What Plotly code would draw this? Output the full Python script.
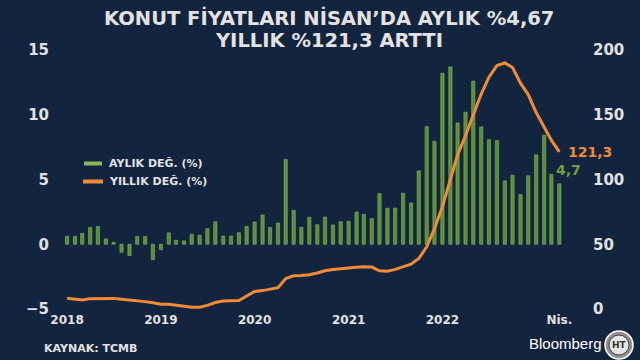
import plotly.graph_objects as go
import pandas as pd

# ---- data ----
months = pd.date_range("2018-01-01", periods=64, freq="MS")

monthly_change = [
    0.62, 0.62, 0.83, 1.29, 1.37, 0.41, 0.15, -0.62, -0.88, 0.60, 0.60, -1.19,
    -0.41, 0.88, 0.31, 0.26, 0.78, 0.70, 1.20, 1.74, 0.63, 0.63, 0.89, 1.38,
    1.72, 2.26, 1.30, 1.64, 6.55, 2.62, 1.30, 2.08, 1.51, 2.10, 1.49, 1.74,
    1.77, 2.49, 2.31, 1.98, 3.91, 2.78, 2.80, 3.94, 3.19, 5.67, 9.08, 7.95,
    13.20, 13.70, 9.37, 10.20, 12.60, 9.06, 8.07, 8.00, 4.90, 5.34, 3.84, 5.29,
    6.91, 8.41, 5.39, 4.67,
]

annual_change = [
    8.3, 7.5, 7.0, 8.0, 8.2, 8.3, 8.2, 7.5, 7.0, 6.0, 5.7, 4.8,
    3.6, 3.6, 3.0, 2.0, 1.3, 1.3, 2.8, 5.0, 6.2, 6.3, 6.5, 10.0,
    13.5, 14.2, 15.5, 16.5, 23.5, 25.6, 25.8, 26.4, 27.8, 29.5, 30.5, 31.2,
    31.8, 32.3, 32.6, 32.4, 29.5, 29.2, 30.6, 32.5, 34.6, 39.0, 48.0, 62.0,
    79.0, 100.0, 119.0, 134.0, 150.0, 166.0, 179.0, 188.0, 190.0, 186.5, 174.4, 165.6,
    151.7, 140.3, 130.4, 121.3,
]

x_tick_vals = ["2018-01-01", "2019-01-01", "2020-01-01", "2021-01-01", "2022-01-01", "2023-04-01"]
x_tick_text = ["2018", "2019", "2020", "2021", "2022", "Nis."]
left_ticks = [-5, 0, 5, 10, 15]
right_ticks = [0, 50, 100, 150, 200]

title_line1 = "KONUT FİYATLARI NİSAN’DA AYLIK %4,67"
title_line2 = "YILLIK %121,3 ARTTI"
legend_labels = ["AYLIK DEĞ. (%)", "YILLIK DEĞ. (%)"]
source_text = "KAYNAK: TCMB"

# ---- style ----
BG = "#13243F"
GREEN = "#5B8D38"
GREEN_EDGE = "#86B85C"
ORANGE = "#F28B36"
TXT = "#E2E2E2"
FONT = "DejaVu Sans"

W, H = 640, 360
ML, MR, MT, MB = 55, 55, 50, 51
PW, PH = W - ML - MR, H - MT - MB


def px(xp):
    return (xp - ML) / PW


def py(yp):
    return (H - MB - yp) / PH


fig = go.Figure()
fig.add_bar(
    x=months, y=monthly_change, yaxis="y",
    marker=dict(color=GREEN, line=dict(color=GREEN_EDGE, width=0.6)),
    name=legend_labels[0],
)
fig.add_scatter(
    x=months, y=annual_change, yaxis="y2", mode="lines",
    line=dict(color=ORANGE, width=3), name=legend_labels[1],
)

tickfont = dict(family=FONT, size=15, color=TXT, weight="bold")

fig.update_layout(
    width=W, height=H,
    margin=dict(l=ML, r=MR, t=MT, b=MB, pad=0),
    paper_bgcolor=BG, plot_bgcolor=BG,
    showlegend=False,
    bargap=0.55,
    xaxis=dict(
        type="date", range=["2017-11-15", "2023-07-10"],
        tickvals=x_tick_vals, ticktext=x_tick_text,
        tickfont=dict(family=FONT, size=12, color=TXT, weight="bold"),
        showgrid=False, zeroline=False, showline=False, ticks="",
        ticklabelstandoff=2,
    ),
    yaxis=dict(
        range=[-5, 15], tickvals=left_ticks, tickfont=tickfont,
        showgrid=False, zeroline=False, showline=False, ticks="",
        ticklabelstandoff=5,
    ),
    yaxis2=dict(
        range=[0, 200], tickvals=right_ticks, tickfont=tickfont,
        overlaying="y", side="right",
        showgrid=False, zeroline=False, showline=False, ticks="",
        ticklabelstandoff=7,
    ),
)

ann = []
# title
ann.append(dict(text=title_line1, x=px(329), y=py(18.5), xref="paper", yref="paper",
                xanchor="center", yanchor="middle", showarrow=False,
                font=dict(family=FONT, size=19.5, color=TXT, weight="bold")))
ann.append(dict(text=title_line2, x=px(329), y=py(40.5), xref="paper", yref="paper",
                xanchor="center", yanchor="middle", showarrow=False,
                font=dict(family=FONT, size=19.5, color=TXT, weight="bold")))
# legend text
ann.append(dict(text=legend_labels[0], x=px(107), y=py(163.5), xref="paper", yref="paper",
                xanchor="left", yanchor="middle", showarrow=False,
                font=dict(family=FONT, size=11, color=TXT, weight="bold")))
ann.append(dict(text=legend_labels[1], x=px(107), y=py(181.5), xref="paper", yref="paper",
                xanchor="left", yanchor="middle", showarrow=False,
                font=dict(family=FONT, size=11, color=TXT, weight="bold")))
# end labels
ann.append(dict(text=f"{annual_change[-1]:.1f}".replace(".", ","), x=months[-1], y=annual_change[-1],
                xref="x", yref="y2", xanchor="left", yanchor="middle", showarrow=False,
                xshift=7, font=dict(family=FONT, size=14, color=ORANGE, weight="bold")))
ann.append(dict(text=f"{monthly_change[-1]:.1f}".replace(".", ","), x=months[-1], y=monthly_change[-1],
                xref="x", yref="y", xanchor="center", yanchor="bottom", showarrow=False,
                xshift=9, yshift=4, font=dict(family=FONT, size=14, color="#6FA046", weight="bold")))
# footer
ann.append(dict(text=source_text, x=px(42), y=py(348), xref="paper", yref="paper",
                xanchor="left", yanchor="middle", showarrow=False,
                font=dict(family=FONT, size=11, color=TXT, weight="bold")))
ann.append(dict(text="Bloomberg", x=px(527), y=py(343), xref="paper", yref="paper",
                xanchor="left", yanchor="middle", showarrow=False,
                font=dict(family="Liberation Sans", size=15, color="#FFFFFF")))
ann.append(dict(text="HT", x=px(619), y=py(345), xref="paper", yref="paper",
                xanchor="center", yanchor="middle", showarrow=False,
                font=dict(family=FONT, size=9, color="#333333", weight="bold")))
fig.update_layout(annotations=ann)

shapes = [
    dict(type="rect", xref="paper", yref="paper", x0=px(84), x1=px(102), y0=py(165.5), y1=py(161.5),
         fillcolor=GREEN_EDGE, line=dict(width=0)),
    dict(type="line", xref="paper", yref="paper", x0=px(83), x1=px(103), y0=py(181.5), y1=py(181.5),
         line=dict(color=ORANGE, width=4)),
    dict(type="circle", xref="paper", yref="paper", x0=px(605), x1=px(633), y0=py(331), y1=py(359),
         fillcolor="#8E8E8E", line=dict(color="#FFFFFF", width=1.5)),
    dict(type="circle", xref="paper", yref="paper", x0=px(609), x1=px(629), y0=py(335), y1=py(355),
         fillcolor="#E6E6E6", line=dict(color="#444444", width=1)),
]
fig.update_layout(shapes=shapes)

fig.write_html(
    "out.html",
    config={"displayModeBar": False},
    post_script="document.body.style.margin='0';document.body.style.background='" + BG + "';",
)
